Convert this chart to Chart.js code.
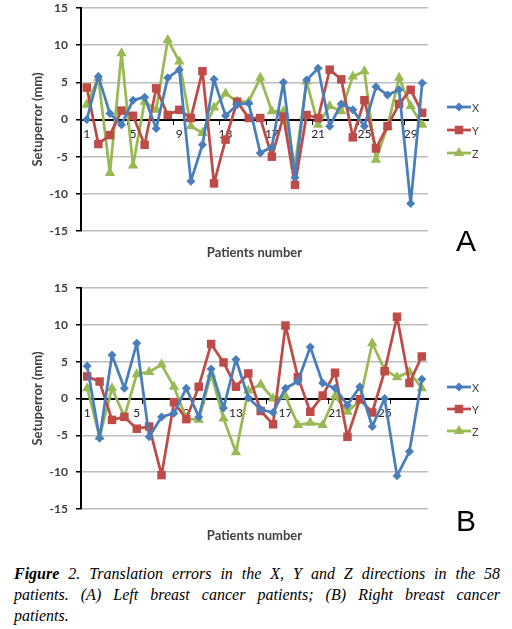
<!DOCTYPE html>
<html>
<head>
<meta charset="utf-8">
<script src="https://cdn.jsdelivr.net/npm/chart.js@4.4.0/dist/chart.umd.min.js"></script>
<style>
  body { margin: 0; background: #fff; width: 512px; height: 629px; overflow: hidden; position: relative; }
  canvas { position: absolute; left: 0; }
  .tag { position: absolute; font: 30px "Liberation Sans", Arial, sans-serif; line-height: 30px; color: #000; }
  .cap { position: absolute; left: 14px; top: 563px; width: 486px; font: italic 16px/21px "Liberation Serif", serif; color: #000; }
  .cap div { text-align: justify; text-align-last: justify; }
  .cap div.last { text-align-last: left; }
</style>
</head>
<body>
<canvas id="chartA" width="512" height="264" style="top:0"></canvas>
<canvas id="chartB" width="512" height="267" style="top:280px"></canvas>
<div class="tag" style="left:456px;top:226px">A</div>
<div class="tag" style="left:456px;top:506px">B</div>
<div class="cap">
  <div><b>Figure</b> 2. Translation errors in the X, Y and Z directions in the 58</div>
  <div>patients. (A) Left breast cancer patients; (B) Right breast cancer</div>
  <div class="last">patients.</div>
</div>
<script>
// ---- data (mm) ----
const patientsA = ['1','2','3','4','5','6','7','8','9','10','11','12','13','14','15',
  '16','17','18','19','20','21','22','23','24','25','26','27','28','29','30'];
const leftX = [0, 5.8, 0.8, -0.7, 2.6, 3.0, -1.2, 5.6, 6.7, -8.3, -3.4, 5.4, 0.5, 2.0, 2.2,
  -4.5, -3.7, 5.0, -7.8, 5.3, 6.9, -0.9, 2.1, 1.3, -0.9, 4.4, 3.3, 4.0, -11.3, 4.9];
const leftY = [4.3, -3.3, -2.1, 1.2, 0.5, -3.4, 4.2, 0.6, 1.3, 0.2, 6.5, -8.6, -2.7, 2.4, 0.2,
  0.2, -5.0, 0.4, -8.8, 0.6, 0.2, 6.7, 5.4, -2.4, 2.6, -3.9, -0.9, 2.1, 4.0, 0.9];
const leftZ = [2.0, 5.6, -7.2, 8.9, -6.2, 2.4, 1.3, 10.7, 7.8, -0.9, -1.8, 1.6, 3.5, 2.4, 2.4,
  5.6, 1.1, 1.1, -6.2, 5.1, -0.7, 1.8, 1.1, 5.8, 6.5, -5.4, -0.9, 5.6, 1.8, -0.7];

const patientsB = ['1','2','3','4','5','6','7','8','9','10','11','12','13','14',
  '15','16','17','18','19','20','21','22','23','24','25','26','27','28'];
const rightX = [4.4, -5.4, 5.9, 1.4, 7.5, -5.2, -2.5, -2.0, 1.4, -2.5, 4.0, -1.3, 5.3, 0.1,
  -1.5, -1.9, 1.4, 2.3, 7.0, 2.1, 1.4, -0.9, 1.6, -3.8, 0, -10.5, -7.2, 2.6];
const rightY = [3.0, 2.3, -2.9, -2.5, -4.1, -3.8, -10.4, -0.5, -2.8, 1.6, 7.4, 4.9, 1.6, 3.4,
  -1.7, -3.5, 9.9, 2.9, -1.8, 0.4, 3.5, -5.2, -0.1, -1.9, 3.7, 11.1, 2.1, 5.7];
const rightZ = [1.4, -5.2, 1.4, -2.5, 3.3, 3.6, 4.6, 1.6, -2.7, -2.9, 3.3, -2.7, -7.3, 1.1,
  1.9, 0, 0.3, -3.6, -3.3, -3.6, 0.3, -1.8, -0.3, 7.5, 3.9, 2.9, 3.6, 1.4];

const yTicks = [-15, -10, -5, 0, 5, 10, 15];

const SERIES = [
  { label: 'X', color: '#4a7ebb', style: 'rectRot', r: 4.5 },
  { label: 'Y', color: '#be4b48', style: 'rect', r: 6 },
  { label: 'Z', color: '#98b954', style: 'triangle', r: 6 },
];

const FONT = 'Lato, "Open Sans", sans-serif';

function drawMarker(ctx, s, x, y) {
  ctx.fillStyle = s.color;
  ctx.beginPath();
  if (s.style === 'rectRot') {
    ctx.moveTo(x - s.r, y); ctx.lineTo(x, y - s.r); ctx.lineTo(x + s.r, y); ctx.lineTo(x, y + s.r);
  } else if (s.style === 'rect') {
    const h = s.r * Math.SQRT1_2;
    ctx.rect(x - h, y - h, 2 * h, 2 * h);
  } else {
    const a = 2 * Math.PI / 3;
    ctx.moveTo(x, y - s.r);
    ctx.lineTo(x + Math.sin(a) * s.r, y - Math.cos(a) * s.r);
    ctx.lineTo(x + Math.sin(2 * a) * s.r, y - Math.cos(2 * a) * s.r);
  }
  ctx.closePath();
  ctx.fill();
}

// right-hand legend: line + marker + letter, like the Excel original
function legendPlugin(rows) {
  return {
    id: 'sideLegend',
    afterDraw(chart) {
      const ctx = chart.ctx;
      ctx.save();
      SERIES.forEach((s, i) => {
        const y = rows[i];
        ctx.strokeStyle = s.color; ctx.lineWidth = 2.75;
        ctx.beginPath(); ctx.moveTo(447, y); ctx.lineTo(471, y); ctx.stroke();
        drawMarker(ctx, s, 459, y);
        ctx.fillStyle = '#404040';
        ctx.font = '11px ' + FONT;
        ctx.textBaseline = 'middle';
        ctx.fillText(s.label, 472, y + 1);
      });
      ctx.restore();
    },
  };
}

function noPad(s) { s.paddingTop = 0; s.paddingBottom = 0; }

function makeChart(id, labels, series, o) {
  const datasets = series.map((vals, i) => ({
    label: SERIES[i].label, data: vals,
    borderColor: SERIES[i].color, backgroundColor: SERIES[i].color,
    pointStyle: SERIES[i].style, pointRadius: SERIES[i].r, pointBorderWidth: 0,
    borderWidth: 2.75, borderJoinStyle: 'round', borderCapStyle: 'round',
    tension: 0, xAxisID: 'x', yAxisID: 'y',
  }));

  return new Chart(document.getElementById(id), {
    type: 'line',
    data: { labels, datasets },
    plugins: [legendPlugin(o.legendRows)],
    options: {
      responsive: false, animation: false,
      layout: { padding: { top: 8, right: 84, left: 0, bottom: 0 } },
      plugins: { legend: { display: false }, tooltip: { enabled: false } },
      scales: {
        y: {
          min: -15, max: 15,
          afterBuildTicks: s => { s.ticks = yTicks.map(v => ({ value: v })); },
          afterFit: s => { s.width = 81; noPad(s); },
          ticks: { color: '#404040', font: { family: FONT, size: 12, weight: 'bold' }, padding: 8 },
          grid: { color: '#bdbdbd', lineWidth: 1.5, tickColor: '#000', tickLength: 5 },
          border: { color: '#000', width: 2 },
          title: { display: true, text: 'Setuperror (mm)', color: '#404040',
                   font: { family: FONT, size: 13, weight: 'bold' }, padding: { top: 30, bottom: 0 } },
        },
        x: {
          type: 'category', position: { y: 0 }, offset: true,
          afterFit: s => { s.height = 0; noPad(s); },
          ticks: { autoSkip: false, maxRotation: 0, color: '#222', padding: 3,
                   font: { family: FONT, size: 12 },
                   callback: (v, i) => (i % 4 === 0 ? labels[i] : '') },
          grid: { drawOnChartArea: false, drawTicks: true, tickLength: 4, offset: true,
                  tickColor: c => (c.index % o.tickEvery === 0 ? '#000' : 'rgba(0,0,0,0)') },
          border: { color: '#000', width: 2 },
        },
        xt: {
          type: 'category', position: 'bottom',
          afterFit: s => { s.height = o.bottomSpace; noPad(s); },
          ticks: { display: false }, grid: { display: false }, border: { display: false },
          title: { display: true, text: 'Patients number', color: '#404040',
                   font: { family: FONT, size: 13, weight: 'bold' }, padding: { top: 0, bottom: 3 } },
        },
      },
    },
  });
}

makeChart('chartA', patientsA, [leftX, leftY, leftZ], { tickEvery: 4, bottomSpace: 33, legendRows: [107, 130, 153] });
makeChart('chartB', patientsB, [rightX, rightY, rightZ], { tickEvery: 5, bottomSpace: 38, legendRows: [107, 129, 151] });
</script>
</body>
</html>
